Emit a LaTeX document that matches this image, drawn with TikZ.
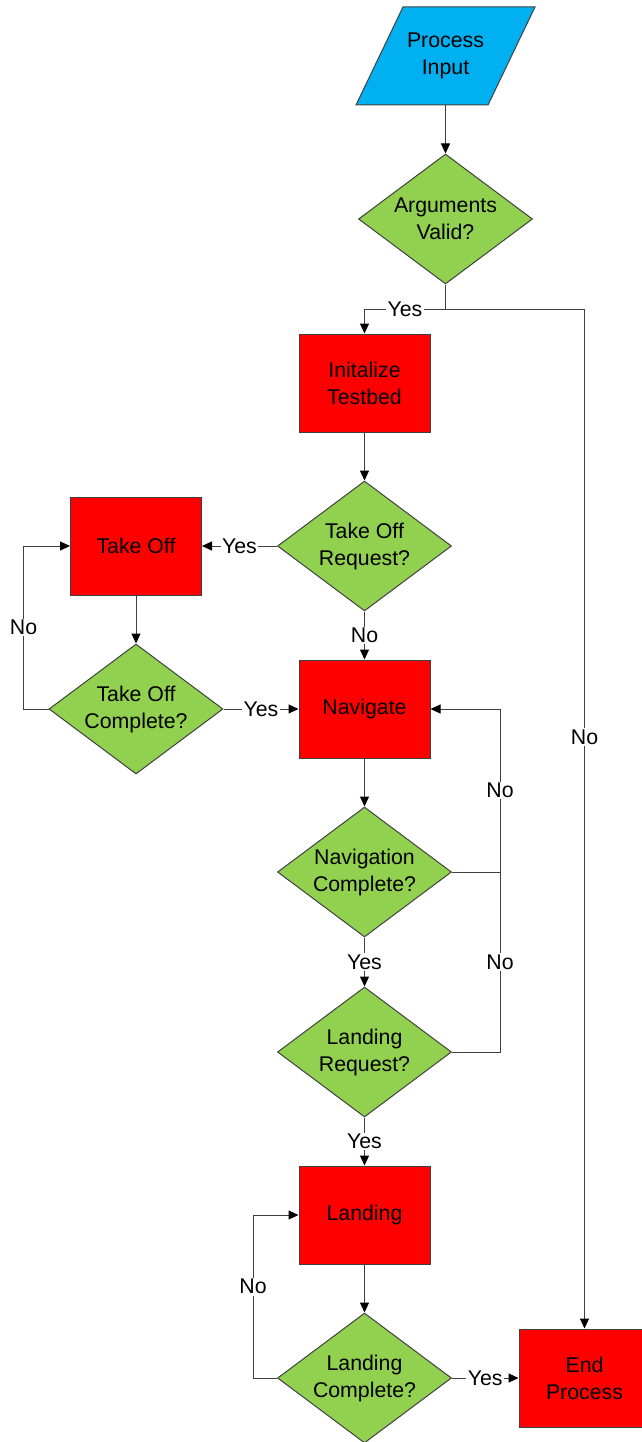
\documentclass[tikz,border=0pt]{standalone}
\usepackage{fontspec}
\setmainfont{Liberation Sans}
\usetikzlibrary{shapes.geometric,arrows.meta,backgrounds}
\definecolor{inblue}{HTML}{00B0F0}
\definecolor{decgreen}{HTML}{92D050}
\definecolor{procred}{HTML}{FF0000}
\definecolor{edgegray}{HTML}{404040}
\begin{document}
\begin{tikzpicture}[x=1pt,y=-1pt,
  every node/.style={font=\fontsize{21.3}{27}\selectfont, align=center, text=black},
  proc/.style={draw=edgegray, line width=1pt, fill=procred, minimum width=131pt, minimum height=98pt, inner sep=0pt},
  dec/.style={diamond, draw=edgegray, line width=1pt, fill=decgreen, minimum width=174pt, minimum height=130pt, inner sep=0pt, shape aspect=1.34},
  io/.style={minimum width=132pt, minimum height=98pt, inner sep=0pt, outer sep=0pt},
  conn/.style={draw=edgegray, line width=1pt},
  arr/.style={conn, -{Triangle[length=10pt,width=9pt,color=black]}},
  lbl/.style={fill=white, inner sep=1.5pt}
]
\useasboundingbox (0,0) rectangle (642,1442);
\clip (0,0) rectangle (642,1442);

\node[io] (in) at (445.5,56) {Process\\Input};
\begin{scope}[on background layer]
\draw[conn, fill=inblue] ([xshift=23.5pt]in.north west) -- ([xshift=23.5pt]in.north east) -- ([xshift=-23.5pt]in.south east) -- ([xshift=-23.5pt]in.south west) -- cycle;
\end{scope}

\node[dec]  (av)   at (445.5,219)  {Arguments\\Valid?};
\node[proc] (init) at (364.5,383)  {Initalize\\Testbed};
\node[dec]  (tor)  at (364.5,546)  {Take Off\\Request?};
\node[proc] (to)   at (136,546)    {Take Off};
\node[dec]  (toc)  at (136,709)    {Take Off\\Complete?};
\node[proc] (nav)  at (364.5,709)  {Navigate};
\node[dec]  (nc)   at (364.5,872)  {Navigation\\Complete?};
\node[dec]  (lr)   at (364.5,1052) {Landing\\Request?};
\node[proc] (land) at (364.5,1215) {Landing};
\node[dec]  (lc)   at (364.5,1378) {Landing\\Complete?};
\node[proc] (ep)   at (584.5,1378) {End\\Process};

\coordinate (split) at (445.5,309);

\draw[arr] (in.south) -- (av.north);
\draw[conn] (av.south) -- (split);
\draw[arr] (split) -- node[lbl]{Yes} (split -| init.north) -- (init.north);
\draw[arr] (split) -- (split -| ep.north) -- node[lbl,pos=0.42]{No} (ep.north);
\draw[arr] (init.south) -- (tor.north);
\draw[arr] (tor.west) -- node[lbl]{Yes} (to.east);
\draw[arr] (tor.south) -- node[lbl]{No} (nav.north);
\draw[arr] (to.south) -- (toc.north);
\draw[arr] (toc.east) -- node[lbl]{Yes} (nav.west);
\draw[arr] (toc.west) -- ++(-25,0) |- node[lbl,pos=0.25]{No} (to.west);
\draw[arr] (nav.south) -- (nc.north);
\draw[arr] (nc.east) -- ++(48,0) coordinate (j) |- node[lbl,pos=0.25]{No} (nav.east);
\draw[conn] (lr.east) -| node[lbl,pos=0.75]{No} (j);
\draw[arr] (nc.south) -- node[lbl]{Yes} (lr.north);
\draw[arr] (lr.south) -- node[lbl]{Yes} (land.north);
\draw[arr] (land.south) -- (lc.north);
\draw[arr] (lc.west) -- ++(-24,0) |- node[lbl,pos=0.28]{No} (land.west);
\draw[arr] (lc.east) -- node[lbl]{Yes} (ep.west);
\end{tikzpicture}
\end{document}
